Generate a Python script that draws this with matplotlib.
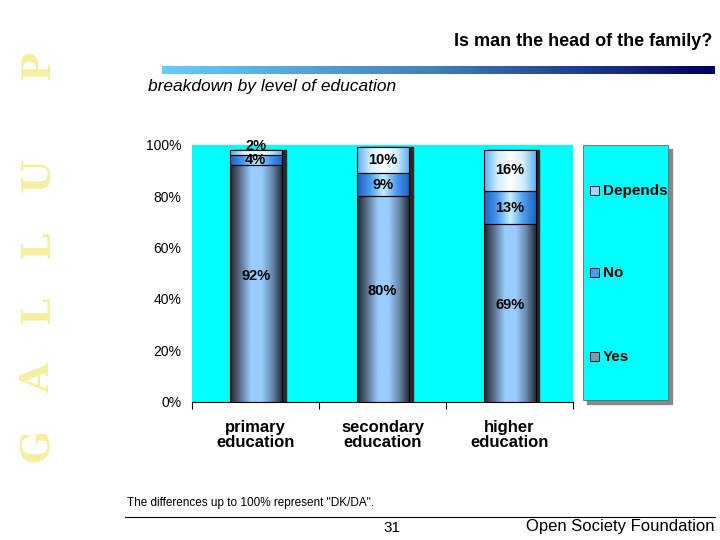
import matplotlib.pyplot as plt
import numpy as np
from matplotlib.colors import LinearSegmentedColormap
from matplotlib.patches import Rectangle

plt.rcParams["font.family"] = ["Liberation Sans", "DejaVu Sans"]

categories = ["primary\neducation", "secondary\neducation", "higher\neducation"]
yes = [92, 80, 69]
no = [4, 9, 13]
depends = [2, 10, 16]
labels_yes = ["92%", "80%", "69%"]
labels_no = ["4%", "9%", "13%"]
labels_dep = ["2%", "10%", "16%"]

CYAN = "#00FFFF"

fig = plt.figure(figsize=(7.2, 5.4), dpi=100)
fig.patch.set_facecolor("white")

ax = fig.add_axes([0.267, 0.256, 0.529, 0.476])
ax.set_facecolor(CYAN)

cm_yes = LinearSegmentedColormap.from_list("y", ["#1c2630", "#5e7590", "#99ccff", "#99ccff", "#6a88aa", "#1c2630"])
cm_no = LinearSegmentedColormap.from_list("n", ["#1f5fc0", "#4a9af0", "#c8f0ff", "#4a9af0", "#1f5fc0"])
cm_dep = LinearSegmentedColormap.from_list("d", ["#5aaaf0", "#cfeeff", "#ffffff", "#cfeeff", "#5aaaf0"])
grad = np.linspace(0, 1, 256).reshape(1, -1)

w = 0.41
x = np.arange(len(categories))
segments = [(yes, np.zeros(3), cm_yes), (no, np.array(yes), cm_no),
            (depends, np.array(yes) + np.array(no), cm_dep)]
for vals, bottoms, cmap in segments:
    bars = ax.bar(x, vals, w, bottom=bottoms, facecolor="none", edgecolor="black", lw=0.8, zorder=3)
    for b in bars:
        im = ax.imshow(grad, cmap=cmap, aspect="auto", zorder=2,
                       extent=(b.get_x(), b.get_x() + b.get_width(), b.get_y(), b.get_y() + b.get_height()))
        im.set_clip_path(b)
        # shadow
        ax.add_patch(Rectangle((b.get_x() + 0.03, b.get_y()), b.get_width(), b.get_height(),
                               color="#2a2a2a", zorder=1))
ax.set_xlim(-0.5, 2.5)
ax.set_ylim(0, 100)

for i in range(3):
    ax.text(x[i], yes[i] / 2 + 3, labels_yes[i], ha="center", va="center", fontsize=10.5, fontweight="bold")
    ax.text(x[i], yes[i] + no[i] / 2, labels_no[i], ha="center", va="center", fontsize=10.5, fontweight="bold")
    yd = yes[i] + no[i] + depends[i] / 2
    if i == 0:
        yd = 99.5
    ax.text(x[i], yd, labels_dep[i], ha="center", va="center", fontsize=10.5, fontweight="bold")

ax.set_yticks([0, 20, 40, 60, 80, 100])
ax.set_yticklabels(["0%", "20%", "40%", "60%", "80%", "100%"], fontsize=10)
ax.set_xticks([-0.5, 0.5, 1.5, 2.5])
ax.set_xticklabels([])
for i, c in enumerate(categories):
    ax.text(x[i], -7, c, ha="center", va="top", fontsize=12, fontweight="bold", linespacing=1.05)
ax.tick_params(axis="x", length=5, direction="out")
ax.tick_params(axis="y", length=0, pad=8)
for s in ["top", "right", "left"]:
    ax.spines[s].set_visible(False)

# legend box
fig.patches.append(Rectangle((587 / 720, 1 - 404 / 540), 85 / 720, 255 / 540,
                             transform=fig.transFigure, color="#888888", zorder=0))
fig.patches.append(Rectangle((583 / 720, 1 - 400 / 540), 85 / 720, 255 / 540,
                             transform=fig.transFigure, facecolor=CYAN, edgecolor="#666666", lw=0.6, zorder=1))
for name, ypx, col in [("Depends", 191, "#9fd3ff"), ("No", 273, "#4a9af0"), ("Yes", 357, "#7a9ab8")]:
    fig.patches.append(Rectangle((590 / 720, 1 - (ypx + 4) / 540), 9 / 720, 9 / 540,
                                 transform=fig.transFigure, facecolor=col, edgecolor="black", lw=0.6, zorder=2))
    fig.text(603 / 720, 1 - ypx / 540, name, ha="left", va="center", fontsize=11, fontweight="bold")

# header
fig.text(712 / 720, 1 - 42 / 540, "Is man the head of the family?", ha="right", va="center",
         fontsize=13, fontweight="bold")
gax = fig.add_axes([162 / 720, 1 - 74 / 540, 553 / 720, 8 / 540])
gax.imshow(grad, cmap=LinearSegmentedColormap.from_list("g", ["#66ccff", "#3f7fb8", "#000060"]), aspect="auto")
gax.axis("off")
fig.text(148 / 720, 1 - 86 / 540, "breakdown by level of education", ha="left", va="center",
         fontsize=12.5, style="italic")

for ch, ypx in zip("GALLUP", [445, 378, 310, 245, 175, 65]):
    fig.text(38 / 720, 1 - ypx / 540, ch, rotation=90, ha="center", va="center",
             fontsize=28, family="DejaVu Serif", fontweight="bold", color="#f5efa0")

# footer
fig.text(127 / 720, 1 - 503 / 540, 'The differences up to 100% represent "DK/DA".', ha="left", va="center", fontsize=8.5)
fig.add_artist(plt.Line2D([125 / 720, 715 / 720], [1 - 517 / 540] * 2, color="black", lw=0.8))
fig.text(392 / 720, 1 - 528 / 540, "31", ha="center", va="center", fontsize=11)
fig.text(714 / 720, 1 - 527 / 540, "Open Society Foundation", ha="right", va="center", fontsize=12)

fig.savefig("out.png", dpi=100)
